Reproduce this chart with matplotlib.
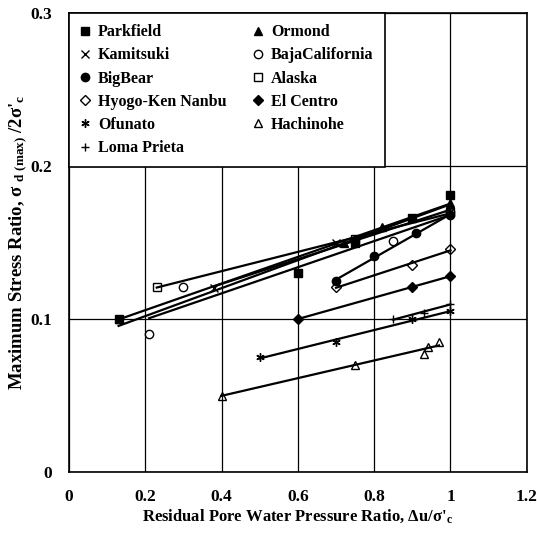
import numpy as np
import matplotlib.pyplot as plt

plt.rcParams['font.family'] = ['Liberation Serif', 'DejaVu Serif']
plt.rcParams['font.weight'] = 'bold'
plt.rcParams['mathtext.fontset'] = 'custom'
plt.rcParams['mathtext.rm'] = 'Liberation Serif:bold'
plt.rcParams['mathtext.it'] = 'Liberation Serif:bold'
plt.rcParams['mathtext.bf'] = 'Liberation Serif:bold'

# residual pore pressure ratio (x) and max stress ratio (y) per earthquake record
parkfield_x = [0.13, 0.60, 0.75, 0.90, 1.00]
parkfield_y = [0.100, 0.130, 0.150, 0.166, 0.181]
ormond_x = [0.13, 0.72, 0.82, 1.00]
ormond_y = [0.100, 0.150, 0.160, 0.176]
kamitsuki_x = [0.38, 0.70, 1.00]
kamitsuki_y = [0.120, 0.150, 0.170]
baja_x = [0.21, 0.30, 0.85, 1.00]
baja_y = [0.090, 0.121, 0.151, 0.170]
bigbear_x = [0.70, 0.80, 0.91, 1.00]
bigbear_y = [0.125, 0.141, 0.156, 0.168]
alaska_x = [0.23, 0.75, 1.00]
alaska_y = [0.121, 0.152, 0.170]
hyogo_x = [0.70, 0.90, 1.00]
hyogo_y = [0.121, 0.135, 0.146]
elcentro_x = [0.60, 0.90, 1.00]
elcentro_y = [0.100, 0.121, 0.128]
ofunato_x = [0.50, 0.70, 0.90, 1.00]
ofunato_y = [0.075, 0.085, 0.100, 0.105]
hachinohe_x = [0.40, 0.75, 0.93, 0.94, 0.97]
hachinohe_y = [0.050, 0.070, 0.077, 0.082, 0.085]
lomaprieta_x = [0.85, 0.93, 1.00]
lomaprieta_y = [0.100, 0.104, 0.110]

series = [
    ('Parkfield', parkfield_x, parkfield_y, 's', 'k'),
    ('Ormond', ormond_x, ormond_y, '^', 'k'),
    ('Kamitsuki', kamitsuki_x, kamitsuki_y, 'x', 'k'),
    ('BajaCalifornia', baja_x, baja_y, 'o', 'none'),
    ('BigBear', bigbear_x, bigbear_y, 'o', 'k'),
    ('Alaska', alaska_x, alaska_y, 's', 'none'),
    ('Hyogo-Ken Nanbu', hyogo_x, hyogo_y, 'D', 'none'),
    ('El Centro', elcentro_x, elcentro_y, 'D', 'k'),
    ('Ofunato', ofunato_x, ofunato_y, (6, 2, 0), 'k'),
    ('Hachinohe', hachinohe_x, hachinohe_y, '^', 'none'),
    ('Loma Prieta', lomaprieta_x, lomaprieta_y, '+', 'k'),
]

fig = plt.figure(figsize=(5.37, 5.33), dpi=100)
ax = fig.add_axes([0.1285, 0.1144, 0.8525, 0.8612])

handles = {}
for name, xs, ys, mk, fc in series:
    xs = np.array(xs)
    ys = np.array(ys)
    # least-squares trend line over the data range
    k, b = np.polyfit(xs, ys, 1)
    xl = np.array([xs.min(), xs.max()])
    ax.plot(xl, k * xl + b, color='k', lw=1.6, zorder=3)
    ms = 5 if mk == 'D' else 6
    h, = ax.plot(xs, ys, ls='none', marker=mk, markersize=ms, markerfacecolor=fc,
                 markeredgecolor='k', markeredgewidth=1.0, color='k',
                 label=name, zorder=4)
    handles[name] = h

ax.set_xlim(0, 1.2)
ax.set_ylim(0, 0.3)
ax.set_xticks([0, 0.2, 0.4, 0.6, 0.8, 1.0, 1.2])
ax.set_xticklabels(['0', '0.2', '0.4', '0.6', '0.8', '1', '1.2'])
ax.set_yticks([0, 0.1, 0.2, 0.3])
ax.set_yticklabels(['0', '0.1', '0.2', '0.3'])
ax.tick_params(length=0, labelsize=12.5, pad=12)
for lab in ax.get_xticklabels() + ax.get_yticklabels():
    lab.set_fontweight('bold')
ax.grid(True, color='k', lw=0.9)
ax.set_axisbelow(True)
for sp in ax.spines.values():
    sp.set_linewidth(1.2)

ax.set_xlabel(r"Residual Pore Water Pressure Ratio, $\Delta$u/$\sigma$'$_{\rm c}$",
              fontsize=12, fontweight='bold', labelpad=2)
ax.set_ylabel(r"Maximum Stress Ratio, $\sigma$ $_{\rm d\ (max)}$ /2$\sigma$'$_{\rm c}$",
              fontsize=13.5, fontweight='bold', labelpad=1)

# two columns, read across the rows
col1 = ['Parkfield', 'Kamitsuki', 'BigBear', 'Hyogo-Ken Nanbu', 'Ofunato', 'Loma Prieta']
col2 = ['Ormond', 'BajaCalifornia', 'Alaska', 'El Centro', 'Hachinohe']
order = col1 + col2
leg = ax.legend([handles[n] for n in order], order,
                loc='upper left', ncol=2, frameon=True, fancybox=False,
                edgecolor='k', framealpha=1, borderaxespad=0,
                prop={'weight': 'bold', 'size': 11.5}, handlelength=0.6,
                handletextpad=0.5, columnspacing=1.7, labelspacing=0.45,
                borderpad=0.7)
leg.get_frame().set_linewidth(1.2)

fig.savefig('out.png', dpi=100)
